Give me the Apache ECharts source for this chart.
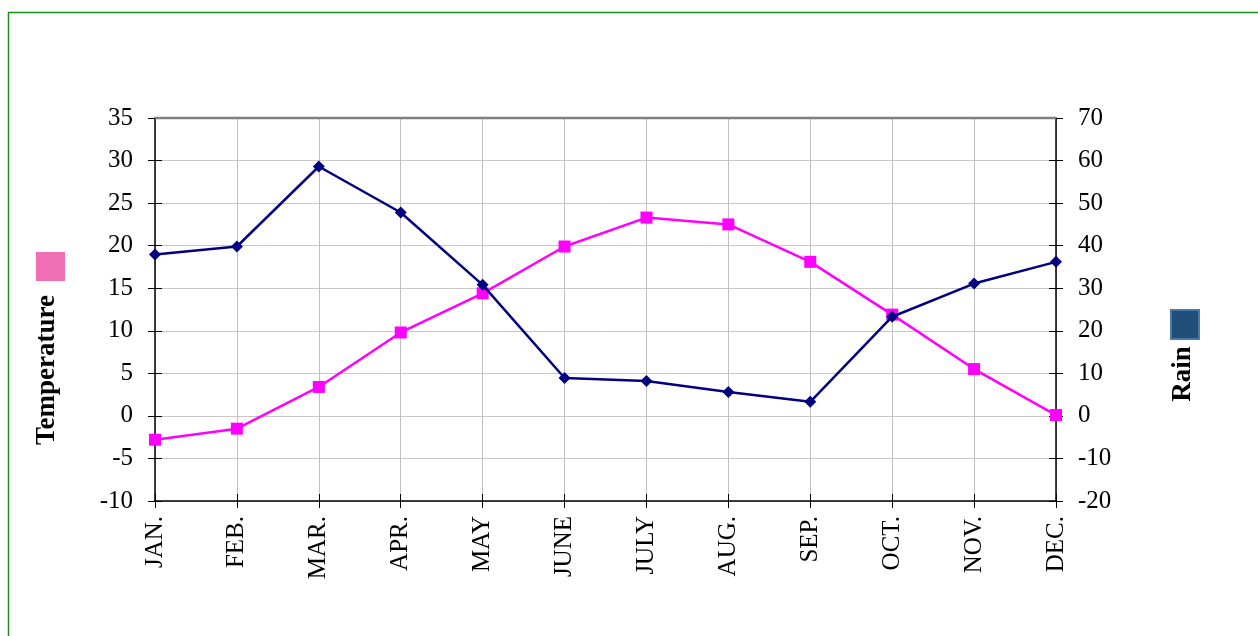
<!DOCTYPE html>
<html>
<head>
<meta charset="utf-8">
<script src="https://cdn.jsdelivr.net/npm/echarts@6/dist/echarts.min.js"></script>
<style>
  html, body { margin: 0; padding: 0; background: #fff; }
  #main { width: 1258px; height: 636px; }
</style>
</head>
<body>
<div id="main"></div>
<script>
var months = ['JAN.', 'FEB.', 'MAR.', 'APR.', 'MAY', 'JUNE', 'JULY', 'AUG.', 'SEP.', 'OCT.', 'NOV.', 'DEC.'];
var temperature = [-2.8, -1.5, 3.4, 9.8, 14.4, 19.9, 23.3, 22.5, 18.1, 11.9, 5.5, 0.1];
var rain = [37.9, 39.8, 58.6, 47.8, 30.8, 8.9, 8.2, 5.6, 3.3, 23.3, 31.1, 36.2];

var chart = echarts.init(document.getElementById('main'));
var serif = '"Liberation Serif", "Times New Roman", serif';
var axisBlack = { color: '#000', width: 1.5 };

// ticks in the reference cross the axis line, so each axis gets a twin with inside ticks
var option = {
    animation: false,
    grid: { left: 155, right: 202, top: 118, bottom: 135 },
    xAxis: [{
        type: 'category',
        data: months,
        boundaryGap: false,
        axisLine: { onZero: false, lineStyle: axisBlack },
        axisTick: { length: 7, lineStyle: { color: '#000' } },
        axisLabel: { rotate: 90, color: '#000', fontFamily: serif, fontSize: 25, margin: 15 },
        splitLine: { show: true, lineStyle: { color: '#c0c0c0', width: 1 } }
    }, {
        type: 'category',
        data: months,
        position: 'bottom',
        boundaryGap: false,
        axisLine: { show: false, onZero: false },
        axisTick: { inside: true, length: 7, lineStyle: { color: '#000' } },
        axisLabel: { show: false },
        splitLine: { show: false }
    }],
    yAxis: [{
        type: 'value',
        min: -10, max: 35, interval: 5,
        axisLine: { show: true, lineStyle: axisBlack },
        axisTick: { show: true, length: 7, lineStyle: { color: '#000' } },
        axisLabel: { color: '#000', fontFamily: serif, fontSize: 25, margin: 22 },
        splitLine: { show: true, lineStyle: { color: '#c8c8c8', width: 1 } }
    }, {
        type: 'value',
        min: -20, max: 70, interval: 10,
        axisLine: { show: true, lineStyle: axisBlack },
        axisTick: { show: true, length: 7, lineStyle: { color: '#000' } },
        axisLabel: { color: '#000', fontFamily: serif, fontSize: 25, margin: 22 },
        splitLine: { show: false }
    }, {
        type: 'value',
        position: 'left',
        min: -10, max: 35, interval: 5,
        axisLine: { show: false },
        axisTick: { show: true, inside: true, length: 7, lineStyle: { color: '#000' } },
        axisLabel: { show: false },
        splitLine: { show: false }
    }, {
        type: 'value',
        position: 'right',
        min: -20, max: 70, interval: 10,
        axisLine: { show: false },
        axisTick: { show: true, inside: true, length: 7, lineStyle: { color: '#000' } },
        axisLabel: { show: false },
        splitLine: { show: false }
    }],
    series: [{
        name: 'Temperature',
        type: 'line',
        yAxisIndex: 0,
        data: temperature,
        symbol: 'rect',
        symbolSize: 12,
        lineStyle: { color: '#ff00ff', width: 2.5 },
        itemStyle: { color: '#ff00ff' },
        z: 3
    }, {
        name: 'Rain',
        type: 'line',
        yAxisIndex: 1,
        data: rain,
        symbol: 'diamond',
        symbolSize: 12,
        lineStyle: { color: '#000080', width: 2.5 },
        itemStyle: { color: '#000080' },
        z: 4
    }],
    graphic: [
        // outer frame
        { type: 'rect', shape: { x: 8.5, y: 12.5, width: 1400, height: 800 },
          style: { fill: 'none', stroke: '#1e8c1e', lineWidth: 1.5 }, silent: true },
        // top border of plot
        { type: 'line', shape: { x1: 155, y1: 118, x2: 1056, y2: 118 },
          style: { stroke: '#808080', lineWidth: 2.5 }, z: 10 },
        // legend keys
        { type: 'rect', shape: { x: 36, y: 252, width: 29, height: 29 },
          style: { fill: '#f06eb4' } },
        { type: 'rect', shape: { x: 1171, y: 310, width: 28, height: 29 },
          style: { fill: '#1f4e79', stroke: '#4a78a8', lineWidth: 2 } },
        // axis titles
        { type: 'text', x: 47, y: 370, rotation: Math.PI / 2,
          style: { text: 'Temperature', font: 'bold 27px ' + serif, fill: '#000',
                   align: 'center', verticalAlign: 'middle' } },
        { type: 'text', x: 1183, y: 374, rotation: Math.PI / 2,
          style: { text: 'Rain', font: 'bold 27px ' + serif, fill: '#000',
                   align: 'center', verticalAlign: 'middle' } }
    ]
};
chart.setOption(option);
</script>
</body>
</html>
